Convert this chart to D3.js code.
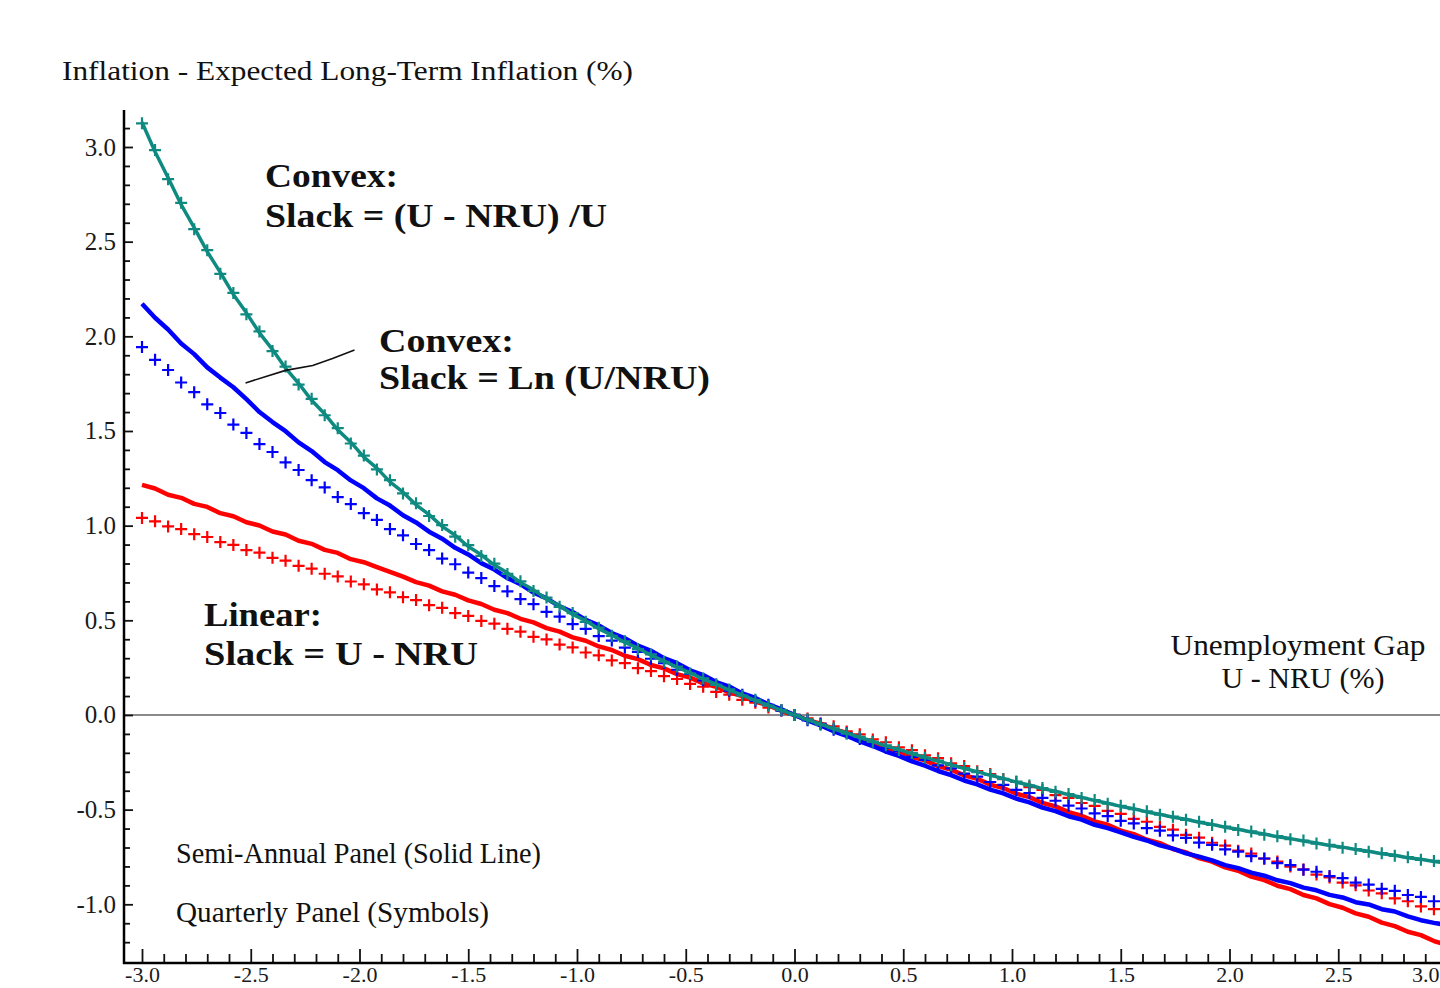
<!DOCTYPE html>
<html>
<head>
<meta charset="utf-8">
<script src="https://cdn.jsdelivr.net/npm/d3@7"></script>
<style>
  body { margin: 0; background: #fff; }
  svg { display: block; font-family: "Liberation Serif", "Times New Roman", serif; }
</style>
</head>
<body>
<svg width="1440" height="988"></svg>
<script>
"use strict";

// unemployment gap U - NRU (%), same grid for every series
const gap = [
  -3.00, -2.94, -2.88, -2.82, -2.76, -2.70, -2.64, -2.58, -2.52, -2.46,
  -2.40, -2.34, -2.28, -2.22, -2.16, -2.10, -2.04, -1.98, -1.92, -1.86,
  -1.80, -1.74, -1.68, -1.62, -1.56, -1.50, -1.44, -1.38, -1.32, -1.26,
  -1.20, -1.14, -1.08, -1.02, -0.96, -0.90, -0.84, -0.78, -0.72, -0.66,
  -0.60, -0.54, -0.48, -0.42, -0.36, -0.30, -0.24, -0.18, -0.12, -0.06,
  0.00, 0.06, 0.12, 0.18, 0.24, 0.30, 0.36, 0.42, 0.48, 0.54,
  0.60, 0.66, 0.72, 0.78, 0.84, 0.90, 0.96, 1.02, 1.08, 1.14,
  1.20, 1.26, 1.32, 1.38, 1.44, 1.50, 1.56, 1.62, 1.68, 1.74,
  1.80, 1.86, 1.92, 1.98, 2.04, 2.10, 2.16, 2.22, 2.28, 2.34,
  2.40, 2.46, 2.52, 2.58, 2.64, 2.70, 2.76, 2.82, 2.88, 2.94, 3.00
];

// Convex: Slack = (U - NRU)/U  (teal)
const convexUSemi = [
  3.131, 2.975, 2.838, 2.696, 2.574, 2.447, 2.338, 2.221, 2.124, 2.018,
  1.930, 1.832, 1.752, 1.662, 1.590, 1.506, 1.441, 1.362, 1.304, 1.231,
  1.177, 1.110, 1.058, 0.996, 0.949, 0.890, 0.846, 0.792, 0.751, 0.700,
  0.661, 0.612, 0.577, 0.531, 0.498, 0.455, 0.423, 0.383, 0.353, 0.315,
  0.286, 0.251, 0.224, 0.189, 0.163, 0.131, 0.106, 0.076, 0.052, 0.024,
  0.000, -0.026, -0.048, -0.073, -0.095, -0.119, -0.139, -0.163, -0.182, -0.204,
  -0.223, -0.244, -0.262, -0.283, -0.299, -0.319, -0.335, -0.355, -0.370, -0.389,
  -0.403, -0.421, -0.435, -0.452, -0.466, -0.483, -0.495, -0.512, -0.524, -0.540,
  -0.551, -0.567, -0.578, -0.593, -0.604, -0.618, -0.629, -0.643, -0.653, -0.666,
  -0.676, -0.689, -0.698, -0.711, -0.720, -0.733, -0.741, -0.754, -0.762, -0.774, -0.782
];
const convexUQtr = [
  3.125, 2.984, 2.830, 2.705, 2.566, 2.455, 2.330, 2.229, 2.116, 2.026,
  1.922, 1.840, 1.745, 1.670, 1.583, 1.515, 1.434, 1.370, 1.297, 1.240,
  1.170, 1.118, 1.051, 1.003, 0.942, 0.897, 0.840, 0.799, 0.745, 0.706,
  0.655, 0.620, 0.571, 0.538, 0.492, 0.461, 0.418, 0.389, 0.348, 0.320,
  0.281, 0.256, 0.219, 0.193, 0.159, 0.135, 0.102, 0.080, 0.049, 0.026,
  0.000, -0.023, -0.051, -0.070, -0.098, -0.116, -0.142, -0.160, -0.185, -0.201,
  -0.226, -0.241, -0.265, -0.280, -0.302, -0.316, -0.338, -0.352, -0.373, -0.386,
  -0.406, -0.418, -0.438, -0.449, -0.469, -0.480, -0.498, -0.509, -0.527, -0.537,
  -0.554, -0.564, -0.581, -0.590, -0.607, -0.615, -0.632, -0.640, -0.656, -0.663,
  -0.679, -0.686, -0.701, -0.708, -0.723, -0.730, -0.744, -0.751, -0.765, -0.771, -0.785
];

// Convex: Slack = Ln(U/NRU)  (blue)
const lnSemi = [
  2.172, 2.098, 2.036, 1.962, 1.906, 1.836, 1.782, 1.731, 1.668, 1.600,
  1.547, 1.499, 1.440, 1.394, 1.336, 1.293, 1.239, 1.198, 1.144, 1.106,
  1.055, 1.017, 0.968, 0.931, 0.883, 0.848, 0.802, 0.768, 0.723, 0.691,
  0.647, 0.616, 0.574, 0.544, 0.502, 0.473, 0.433, 0.405, 0.366, 0.339,
  0.300, 0.274, 0.236, 0.211, 0.174, 0.150, 0.114, 0.090, 0.056, 0.030,
  0.000, -0.029, -0.055, -0.086, -0.110, -0.140, -0.164, -0.193, -0.216, -0.245,
  -0.268, -0.296, -0.318, -0.346, -0.367, -0.394, -0.414, -0.442, -0.462, -0.489,
  -0.508, -0.535, -0.553, -0.580, -0.598, -0.620, -0.644, -0.663, -0.689, -0.706,
  -0.731, -0.748, -0.768, -0.793, -0.809, -0.833, -0.849, -0.873, -0.888, -0.912,
  -0.926, -0.950, -0.964, -0.989, -1.001, -1.026, -1.038, -1.064, -1.084, -1.098, -1.110
];
const lnQtr = [
  1.943, 1.876, 1.822, 1.756, 1.705, 1.641, 1.595, 1.534, 1.490, 1.431,
  1.389, 1.334, 1.294, 1.240, 1.202, 1.151, 1.114, 1.066, 1.030, 0.982,
  0.949, 0.903, 0.871, 0.826, 0.796, 0.752, 0.723, 0.681, 0.653, 0.612,
  0.585, 0.545, 0.519, 0.480, 0.455, 0.417, 0.393, 0.356, 0.333, 0.297,
  0.274, 0.239, 0.217, 0.183, 0.161, 0.128, 0.107, 0.075, 0.054, 0.023,
  0.000, -0.028, -0.047, -0.078, -0.096, -0.127, -0.144, -0.174, -0.191, -0.221,
  -0.237, -0.266, -0.282, -0.310, -0.326, -0.354, -0.369, -0.396, -0.412, -0.438,
  -0.453, -0.479, -0.494, -0.520, -0.534, -0.559, -0.573, -0.598, -0.611, -0.636,
  -0.649, -0.674, -0.686, -0.710, -0.722, -0.746, -0.758, -0.782, -0.793, -0.817,
  -0.828, -0.851, -0.862, -0.885, -0.896, -0.918, -0.929, -0.951, -0.961, -0.984, -0.993
];

// Linear: Slack = U - NRU  (red)
const linearSemi = [
  1.215, 1.196, 1.163, 1.147, 1.115, 1.099, 1.066, 1.050, 1.018, 1.001,
  0.969, 0.953, 0.920, 0.904, 0.872, 0.856, 0.823, 0.807, 0.781, 0.756,
  0.731, 0.702, 0.683, 0.653, 0.635, 0.605, 0.586, 0.556, 0.538, 0.508,
  0.489, 0.459, 0.440, 0.410, 0.392, 0.362, 0.343, 0.313, 0.295, 0.264,
  0.246, 0.216, 0.197, 0.167, 0.149, 0.119, 0.100, 0.070, 0.052, 0.021,
  0.000, -0.027, -0.046, -0.076, -0.094, -0.125, -0.143, -0.173, -0.191, -0.222,
  -0.240, -0.270, -0.289, -0.319, -0.337, -0.368, -0.386, -0.416, -0.434, -0.465,
  -0.483, -0.513, -0.532, -0.562, -0.580, -0.611, -0.629, -0.659, -0.677, -0.708,
  -0.726, -0.756, -0.775, -0.805, -0.823, -0.854, -0.872, -0.902, -0.920, -0.951,
  -0.969, -0.999, -1.018, -1.048, -1.066, -1.097, -1.115, -1.145, -1.163, -1.194, -1.215
];
const linearQtr = [
  1.041, 1.023, 0.996, 0.982, 0.955, 0.940, 0.913, 0.898, 0.871, 0.857,
  0.830, 0.815, 0.788, 0.773, 0.746, 0.732, 0.705, 0.690, 0.663, 0.648,
  0.622, 0.607, 0.580, 0.566, 0.538, 0.523, 0.497, 0.482, 0.455, 0.440,
  0.413, 0.399, 0.372, 0.357, 0.330, 0.315, 0.288, 0.274, 0.247, 0.232,
  0.205, 0.190, 0.164, 0.149, 0.122, 0.107, 0.080, 0.065, 0.039, 0.024,
  0.000, -0.018, -0.045, -0.060, -0.087, -0.102, -0.129, -0.144, -0.171, -0.186,
  -0.213, -0.228, -0.255, -0.270, -0.297, -0.312, -0.339, -0.354, -0.381, -0.396,
  -0.423, -0.438, -0.465, -0.480, -0.507, -0.522, -0.549, -0.564, -0.591, -0.606,
  -0.633, -0.648, -0.675, -0.690, -0.717, -0.732, -0.759, -0.774, -0.801, -0.816,
  -0.843, -0.858, -0.885, -0.900, -0.927, -0.942, -0.969, -0.984, -1.011, -1.026, -1.050
];

const yTicks = [-1.0, -0.5, 0.0, 0.5, 1.0, 1.5, 2.0, 2.5, 3.0];
const xTicks = [-3.0, -2.5, -2.0, -1.5, -1.0, -0.5, 0.0, 0.5, 1.0, 1.5, 2.0, 2.5, 3.0];

const TEAL = "#0f8a80";
const BLUE = "#0000ff";
const RED = "#ff0000";

const svg = d3.select("svg");

const x = d3.scaleLinear().domain([-3, 3]).range([142, 1447]);
const y = d3.scaleLinear().domain([-1, 3]).range([904.3, 147]);

// minor ticks every 0.1
const xMinor = d3.range(-30, 31).map((i) => i / 10).filter((v) => xTicks.indexOf(v) < 0);
const yMinor = d3.range(-12, 32).map((i) => i / 10).filter((v) => yTicks.indexOf(v) < 0);

const fmt = (d) => d.toFixed(1);

// zero reference line
svg.append("line")
  .attr("x1", 124).attr("x2", 1440)
  .attr("y1", y(0)).attr("y2", y(0))
  .attr("stroke", "#8a8a8a")
  .attr("stroke-width", 2);

// y axis (ticks point into the plot)
const yAxisG = svg.append("g").attr("transform", "translate(124,0)");
yAxisG.append("g")
  .call(d3.axisLeft(y).tickValues(yMinor).tickSize(-6).tickFormat(""));
yAxisG.append("g")
  .call(d3.axisLeft(y).tickValues(yTicks).tickSize(-9).tickPadding(8).tickFormat(fmt));

// x axis
const xAxisG = svg.append("g").attr("transform", "translate(0,963)");
xAxisG.append("g")
  .call(d3.axisBottom(x).tickValues(xMinor).tickSize(-9).tickFormat(""));
xAxisG.append("g")
  .call(d3.axisBottom(x).tickValues(xTicks).tickSize(-14).tickPadding(3).tickFormat(fmt));

svg.selectAll(".domain").remove();
svg.selectAll(".tick line").attr("stroke", "#111").attr("stroke-width", 1.8);
yAxisG.attr("font-family", null).attr("font-size", null);
xAxisG.attr("font-family", null).attr("font-size", null);
yAxisG.selectAll(".tick text")
  .attr("font-family", "Liberation Serif, Times New Roman, serif")
  .attr("font-size", 25)
  .attr("fill", "#1a1a1a");
// bottom labels sit right at the lower edge of the picture
xAxisG.selectAll(".tick text")
  .attr("font-family", "Liberation Serif, Times New Roman, serif")
  .attr("font-size", 22)
  .attr("fill", "#1a1a1a");
// the last label would fall past the right edge: pull it inside
xAxisG.selectAll(".tick text")
  .filter((d) => d === 3)
  .attr("text-anchor", "end")
  .attr("x", 1439 - x(3));

// axis lines
svg.append("line")
  .attr("x1", 124).attr("x2", 124).attr("y1", 110).attr("y2", 964)
  .attr("stroke", "#000").attr("stroke-width", 2.5);
svg.append("line")
  .attr("x1", 123).attr("x2", 1440).attr("y1", 963).attr("y2", 963)
  .attr("stroke", "#000").attr("stroke-width", 2.5);

// series: solid line = semi-annual panel, symbols = quarterly panel
const series = [
  { semi: linearSemi, qtr: linearQtr, color: RED, w: 4.5 },
  { semi: lnSemi, qtr: lnQtr, color: BLUE, w: 4.5 },
  { semi: convexUSemi, qtr: convexUQtr, color: TEAL, w: 3.5 }
];

const line = d3.line()
  .x((d) => x(d[0]))
  .y((d) => y(d[1]));

const plusPath = "M-6,0H6M0,-6V6";

series.forEach((s) => {
  svg.append("path")
    .datum(gap.map((g, i) => [g, s.semi[i]]))
    .attr("fill", "none")
    .attr("stroke", s.color)
    .attr("stroke-width", s.w)
    .attr("stroke-linejoin", "round")
    .attr("d", line);

  svg.append("g")
    .selectAll("path")
    .data(gap.map((g, i) => [g, s.qtr[i]]))
    .enter()
    .append("path")
    .attr("transform", (d) => `translate(${x(d[0])},${y(d[1])})`)
    .attr("d", plusPath)
    .attr("stroke", s.color)
    .attr("stroke-width", 2.2)
    .attr("fill", "none");
});

// leader line from the Ln label to the blue curve
svg.append("path")
  .datum([[-2.524, 1.754], [-2.34, 1.82], [-2.215, 1.846], [-2.124, 1.883], [-2.023, 1.928]])
  .attr("fill", "none")
  .attr("stroke", "#111")
  .attr("stroke-width", 1.6)
  .attr("d", line);

// texts
function addText(txt, px, py, opts) {
  const t = svg.append("text")
    .attr("x", px)
    .attr("y", py)
    .attr("font-size", opts.size)
    .attr("font-weight", opts.bold ? "bold" : "normal")
    .attr("text-anchor", opts.anchor || "start")
    .attr("fill", "#111")
    .text(txt);
  if (opts.len) {
    t.attr("textLength", opts.len).attr("lengthAdjust", "spacingAndGlyphs");
  }
  return t;
}

addText("Inflation - Expected Long-Term Inflation (%)", 62, 80, { size: 28, len: 571 });

addText("Convex:", 265, 187, { size: 34, bold: true, len: 133 });
addText("Slack = (U - NRU) /U", 265, 227, { size: 34, bold: true, len: 342 });

addText("Convex:", 379, 352, { size: 34, bold: true, len: 135 });
addText("Slack = Ln (U/NRU)", 379, 389, { size: 34, bold: true, len: 331 });

addText("Linear:", 204, 626, { size: 34, bold: true, len: 118 });
addText("Slack = U - NRU", 204, 665, { size: 34, bold: true, len: 274 });

addText("Unemployment Gap", 1298, 655, { size: 30, anchor: "middle", len: 255 });
addText("U - NRU (%)", 1303, 688, { size: 30, anchor: "middle", len: 163 });

addText("Semi-Annual Panel (Solid Line)", 176, 863, { size: 29, len: 365 });
addText("Quarterly Panel (Symbols)", 176, 922, { size: 29, len: 313 });
</script>
</body>
</html>
